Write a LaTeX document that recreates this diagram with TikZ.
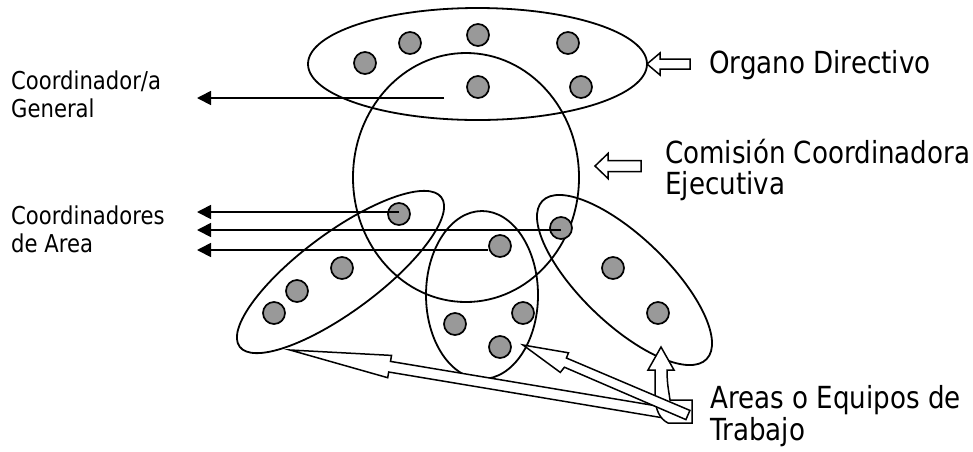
\documentclass[tikz,border=0pt]{standalone}
\usepackage{fontspec}
\setmainfont{DejaVu Sans}[FakeStretch=0.86]
\usetikzlibrary{arrows.meta,shapes.geometric}
\definecolor{dotgray}{RGB}{153,153,153}
\begin{document}
\begin{tikzpicture}[x=1pt,y=-1pt,
  grp/.style={draw, ellipse, line width=1.8pt, inner sep=0pt},
  member/.style={draw, circle, fill=dotgray, line width=1.7pt, minimum size=22pt, inner sep=0pt},
  link/.style={line width=1.7pt, -{Triangle[length=14pt,width=14pt]}},
  blk/.style={draw, fill=white, line width=1.5pt, line join=miter},
  bigtxt/.style={anchor=base west, inner sep=0pt, font=\fontsize{30.4}{34}\selectfont},
  smalltxt/.style={anchor=base west, inner sep=0pt, font=\fontsize{24.6}{28}\selectfont}]
\useasboundingbox (0,0) rectangle (973,451);

% groups
\node[grp, minimum width=339pt, minimum height=112pt] (organo) at (477.5,64) {};
\node[grp, minimum width=226pt, minimum height=249pt] (comision) at (466,177.5) {};
\node[grp, minimum width=251pt, minimum height=79pt, rotate=36.5] (areaL) at (340.5,272) {};
\node[grp, minimum width=112pt, minimum height=168pt] (areaM) at (482,295) {};
\node[grp, minimum width=228pt, minimum height=87pt, rotate=-43.9] (areaR) at (624.5,280) {};

% members
\node[member] (D1) at (365,63) {};
\node[member] (D2) at (410,43) {};
\node[member] (D3) at (478,35) {};
\node[member] (D4) at (568,43) {};
\node[member] (D5) at (478,87) {};
\node[member] (D6) at (581,87) {};
\node[member] (L1) at (399,214) {};
\node[member] (L2) at (342,268) {};
\node[member] (L3) at (297,291) {};
\node[member] (L4) at (274,313) {};
\node[member] (M1) at (500,246) {};
\node[member] (M2) at (455,324) {};
\node[member] (M3) at (523,313) {};
\node[member] (M4) at (500,347) {};
\node[member] (R1) at (561,228) {};
\node[member] (R2) at (613,268) {};
\node[member] (R3) at (658,313) {};

% coordinator arrows
\coordinate (gstart) at (444,98);
\coordinate (gtip) at (197,98);
\coordinate (tipA) at (197,212);
\coordinate (tipB) at (197,230);
\coordinate (tipC) at (197,250);
\draw[link] (gstart) -- (gtip);
\draw[link] (L1.center |- tipA) -- (tipA);
\draw[link] (R1.center |- tipB) -- (tipB);
\draw[link] (M1.west |- tipC) -- (tipC);

% hollow pointer arrows
\draw[blk] (647,64) -- (660,53) -- (660,59) -- (690,59) -- (690,69) -- (660,69) -- (660,75) -- cycle;
\draw[blk] (595,166) -- (608,153.5) -- (608,160.5) -- (641,160.5) -- (641,171.5) -- (608,171.5) -- (608,178.5) -- cycle;

% block arrows at bottom
\draw[blk] (290,350) -- (391.5,355.4) -- (390.5,361.4) -- (665.7,407.4) -- (663.9,418) -- (388.7,372) -- (387.7,377.7) -- cycle;
\draw[blk] (661,347) -- (674,370) -- (667,370) .. controls (667,385) and (669,392) .. (670,400) -- (692,400) -- (692,423) -- (668,423) .. controls (660,419) and (655,410) .. (655,395) -- (655,370) -- (648,370) -- cycle;
\draw[blk] (523,345) -- (568.5,352.8) -- (566.4,358) -- (689.9,410.4) -- (685.9,419.6) -- (564.4,367.2) -- (560.3,372.4) -- cycle;

% texts
\node[bigtxt] (tOrg) at (709,73) {Organo Directivo};
\node[bigtxt] (tCom1) at (665,163) {Comisión Coordinadora};
\node[bigtxt] (tCom2) at (665,194) {Ejecutiva};
\node[bigtxt] (tAre1) at (710,408) {Areas o Equipos de};
\node[bigtxt] (tAre2) at (710,440) {Trabajo};
\node[smalltxt] (tGen1) at (11,89) {Coordinador/a};
\node[smalltxt] (tGen2) at (11,117) {General};
\node[smalltxt] (tAr1) at (11,224) {Coordinadores};
\node[smalltxt] (tAr2) at (11,252) {de Area};
\end{tikzpicture}
\end{document}
